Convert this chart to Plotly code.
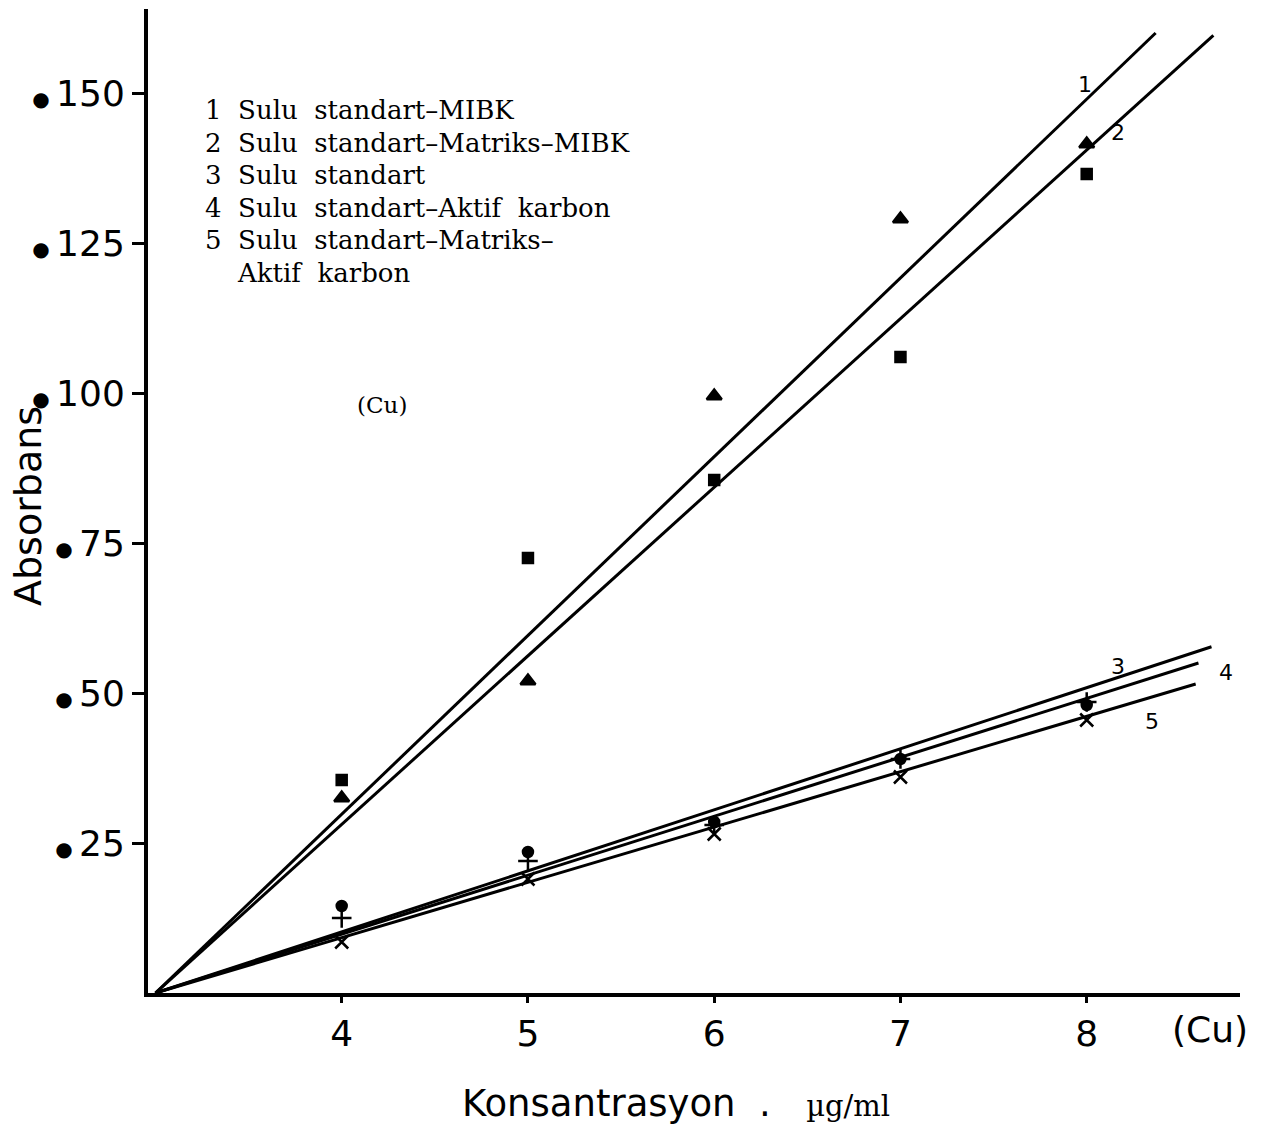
import plotly.graph_objects as go

# ---- data ----
conc = [4, 5, 6, 7, 8]
s1_tri = [32.5, 52, 99.5, 129, 141.5]      # 1 Sulu standart-MIBK
s2_sq = [35.5, 72.5, 85.5, 106, 136.5]     # 2 Sulu standart-Matriks-MIBK
s3_circ = [14.5, 23.5, 28.5, 39, 48]       # 3 Sulu standart
s4_plus = [12.5, 22, 28, 39, 48.5]         # 4 Sulu standart-Aktif karbon
s5_x = [8.5, 19, 26.5, 36, 45.5]           # 5 Sulu standart-Matriks-Aktif karbon

line_start_x = 3
line_start_y = 0
line_end_x = [8.37, 8.68, 8.67, 8.60, 8.585]
line_end_y = [160, 159.6, 57.7, 55.0, 51.5]
line_names = ["1", "2", "3", "4", "5"]
line_label_pos_x = [7.99, 8.17, 8.17, 8.75, 8.35]
line_label_pos_y = [151.5, 143.5, 54.5, 53.5, 45.3]

legend_lines = [
    "1  Sulu  standart–MIBK",
    "2  Sulu  standart–Matriks–MIBK",
    "3  Sulu  standart",
    "4  Sulu  standart–Aktif  karbon",
    "5  Sulu  standart–Matriks–",
    "    Aktif  karbon",
]

x_ticks = [4, 5, 6, 7, 8]
y_ticks = [25, 50, 75, 100, 125, 150]

series = [
    (s1_tri, "triangle-up", 13),
    (s2_sq, "square", 10),
    (s3_circ, "circle", 10),
    (s4_plus, "cross-thin", 14),
    (s5_x, "x-thin", 13),
]

L, R, T, B = 148, 33, 9, 138
W, H = 1273, 1131
PW = W - L - R
PH = H - T - B
XR = [2.96, 8.823]
YR = [0, 164]

fig = go.Figure()

for i in range(5):
    fig.add_trace(go.Scatter(
        x=[line_start_x, line_end_x[i]], y=[line_start_y, line_end_y[i]],
        mode="lines", line=dict(color="black", width=3), showlegend=False,
        hoverinfo="skip"))

for vals, sym, sz in series:
    fig.add_trace(go.Scatter(
        x=conc, y=vals, mode="markers",
        marker=dict(symbol=sym, size=sz, color="black",
                    line=dict(color="black", width=2.5)),
        showlegend=False))

# line number labels
for i in range(5):
    fig.add_annotation(x=line_label_pos_x[i], y=line_label_pos_y[i],
                       text=line_names[i], showarrow=False,
                       xanchor="center", yanchor="middle",
                       font=dict(family="DejaVu Sans", size=22, color="black"))


def px(xp):
    return (xp - L) / PW


def py(yp):
    return (H - B - yp) / PH


# legend text block
for j, t in enumerate(legend_lines):
    fig.add_annotation(xref="paper", yref="paper", x=px(203),
                       y=py(110 + j * 32.6), xanchor="left",
                       yanchor="middle", text=t, showarrow=False,
                       font=dict(family="DejaVu Serif", size=26, color="black"))

fig.add_annotation(xref="paper", yref="paper", x=px(382), y=py(405),
                   xanchor="center", yanchor="middle",
                   text="(Cu)", showarrow=False,
                   font=dict(family="DejaVu Serif", size=23, color="black"))

# axis titles
fig.add_annotation(xref="paper", yref="paper", x=px(28), y=py(506),
                   xanchor="center", yanchor="middle",
                   text="Absorbans", textangle=-90, showarrow=False,
                   font=dict(family="DejaVu Sans", size=38, color="black"))
fig.add_annotation(xref="paper", yref="paper", x=px(676), y=py(1103),
                   xanchor="center", yanchor="middle",
                   text="Konsantrasyon  .   <span style='font-family:DejaVu Serif;font-size:29px'>µg/ml</span>",
                   showarrow=False,
                   font=dict(family="DejaVu Sans", size=37, color="black"))
fig.add_annotation(xref="paper", yref="paper", x=px(1210), y=py(1029),
                   xanchor="center", yanchor="middle",
                   text="(Cu)", showarrow=False,
                   font=dict(family="DejaVu Sans", size=36, color="black"))

fig.update_xaxes(range=XR, tickvals=x_ticks,
                 ticktext=[str(v) for v in x_ticks],
                 showline=True, linecolor="black", linewidth=4,
                 ticks="outside", ticklen=6, tickwidth=3, tickcolor="black",
                 showgrid=False, zeroline=False,
                 tickfont=dict(family="DejaVu Sans", size=36, color="black"))
fig.update_yaxes(range=YR, tickvals=y_ticks,
                 ticktext=["<span style='font-size:20px'>● </span>" + str(v) for v in y_ticks],
                 showline=True, linecolor="black", linewidth=4,
                 ticks="outside", ticklen=12, tickwidth=3, tickcolor="black",
                 showgrid=False, zeroline=False,
                 tickfont=dict(family="DejaVu Sans", size=36, color="black"))

fig.update_layout(width=W, height=H,
                  margin=dict(l=L, r=R, t=T, b=B),
                  paper_bgcolor="white", plot_bgcolor="white")

fig.write_html("out.html")
